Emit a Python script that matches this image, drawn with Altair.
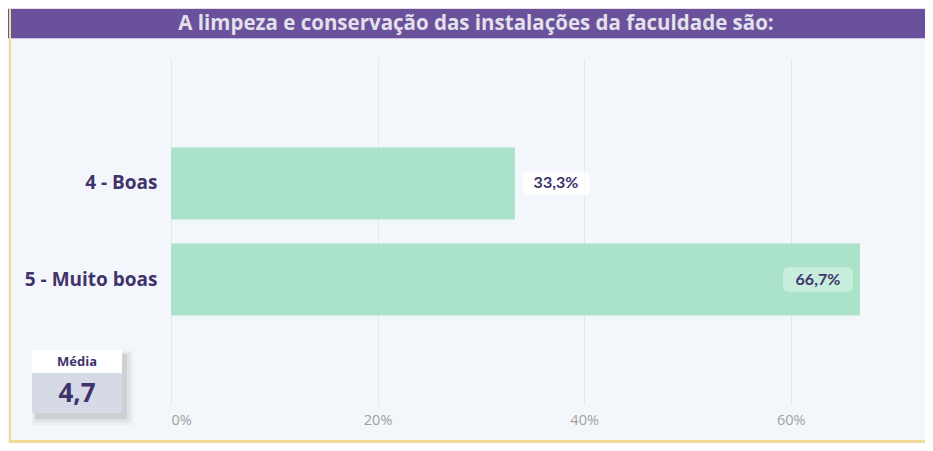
import altair as alt
import pandas as pd

# ---- data ----
categories = ["4 - Boas", "5 - Muito boas"]
shares = [0.333, 0.667]
x_ticks = [0, 0.2, 0.4, 0.6]
title_text = "A limpeza e conservação das instalações da faculdade são:"
media_label = ["Média"]
media_value = [4.7]

df = pd.DataFrame({"cat": categories, "pct": shares})

TXT = "#40336b"
W, H = 754, 347
one = alt.Data(values=[{}])

y_enc = alt.Y(
    "cat:N", sort=categories,
    scale=alt.Scale(paddingInner=0.25, paddingOuter=0.93),
    axis=alt.Axis(title=None, domain=False, ticks=False, grid=False,
                  labelFont="Open Sans", labelFontWeight="bold", labelFontSize=19,
                  labelColor=TXT, labelPadding=14),
)
x_enc = alt.X(
    "pct:Q",
    scale=alt.Scale(domain=[0, 0.73], nice=False, zero=True),
    axis=alt.Axis(title=None, domain=False, ticks=False, grid=True, values=x_ticks,
                  format=".0%", gridColor="#e3e5ea", gridWidth=1,
                  labelFont="Open Sans", labelFontSize=14.5, labelColor="#a0a0a4",
                  labelPadding=8),
)


def rect(x, x2, y, y2, color, opacity=1.0):
    return alt.Chart(one).mark_rect(color=color, opacity=opacity).encode(
        x=alt.value(x), x2=alt.value(x2), y=alt.value(y), y2=alt.value(y2))


# frame / header decorations
header_top = rect(-163, W, -50, -49, "#e6dde6")
header = rect(-163, W, -49, -20, "#6a519b")
header_line = rect(-163, W, -20, -19, "#cdc4e0")
left_border = rect(-162, -160, -49, 385, "#f0dc98")
bottom_border = rect(-162, W, 382, 385, "#f0dc98")

title = alt.Chart(alt.Data(values=[{"t": title_text}])).mark_text(
    font="Open Sans", fontWeight="bold", fontSize=20.5, color="#e2e0ea",
    align="center", baseline="middle",
).encode(x=alt.value(305), y=alt.value(-34), text="t:N")

# media card with soft shadow
shadows = [
    rect(-139 + 0, -49 + 11, 292 + 1, 355 + 12, "#000000", 0.035),
    rect(-139 + 2, -49 + 8, 292 + 3, 355 + 9, "#000000", 0.05),
    rect(-139 + 3, -49 + 5, 292 + 4, 355 + 6, "#000000", 0.07),
]
card_top = rect(-139, -49, 292, 315, "#ffffff")
card_bottom = rect(-139, -49, 315, 355, "#d6d9e6")
card_label = alt.Chart(pd.DataFrame({"l": media_label})).mark_text(
    font="Open Sans", fontWeight="bold", fontSize=13, color=TXT,
    align="center", baseline="middle",
).encode(x=alt.value(-94), y=alt.value(304), text="l:N")
card_value = alt.Chart(pd.DataFrame({"m": media_value})).transform_calculate(
    t="replace(format(datum.m, '.1f'), '.', ',')"
).mark_text(
    font="Open Sans", fontWeight="bold", fontSize=26, color=TXT,
    align="center", baseline="middle",
).encode(x=alt.value(-94), y=alt.value(336), text="t:N")

# bars and value labels
base = alt.Chart(df).transform_calculate(
    lab="replace(format(datum.pct, '.1%'), '.', ',')"
)
bars = base.mark_bar(color="#aae3c9").encode(x=x_enc, y=y_enc)

box_path = ("M-0.85,-0.35 H0.85 A0.15,0.15 0 0 1 1,-0.2 V0.2 A0.15,0.15 0 0 1 0.85,0.35 "
            "H-0.85 A0.15,0.15 0 0 1 -1,0.2 V-0.2 A0.15,0.15 0 0 1 -0.85,-0.35 Z")

outside = base.transform_filter("datum.pct < 0.5")
inside = base.transform_filter("datum.pct >= 0.5")

box_out = outside.mark_point(shape=box_path, filled=True, size=4624, color="#ffffff",
                             opacity=0.85, xOffset=41, strokeWidth=0).encode(x=x_enc, y=y_enc)
box_in = inside.mark_point(shape=box_path, filled=True, size=4900, color="#ffffff",
                           opacity=0.35, xOffset=-42, strokeWidth=0).encode(x=x_enc, y=y_enc)
txt_out = outside.mark_text(font="Lato", fontWeight="bold", fontSize=16, color=TXT,
                            align="center", baseline="middle", dx=41).encode(
    x=x_enc, y=y_enc, text="lab:N")
txt_in = inside.mark_text(font="Lato", fontWeight="bold", fontSize=16, color=TXT,
                          align="center", baseline="middle", dx=-42).encode(
    x=x_enc, y=y_enc, text="lab:N")

chart = alt.layer(
    header_top, header, header_line, left_border, bottom_border, title,
    *shadows, card_top, card_bottom, card_label, card_value,
    bars, box_out, box_in, txt_out, txt_in,
).properties(
    width=W, height=H,
    background="#f3f7fb",
    padding={"left": 163, "top": 50, "right": 0, "bottom": 38},
    autosize=alt.AutoSizeParams(type="none"),
).configure_view(stroke=None)

chart.save("out.html", embed_options={"renderer": "svg", "actions": False})
